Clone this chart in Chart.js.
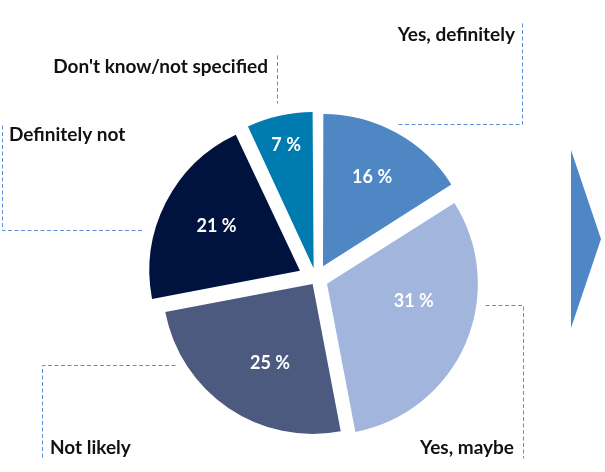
<!DOCTYPE html>
<html>
<head>
<meta charset="utf-8">
<script src="https://cdn.jsdelivr.net/npm/chart.js@4/dist/chart.umd.min.js"></script>
<style>
  html, body { margin: 0; padding: 0; background: #fff; }
  #wrap { position: relative; width: 605px; height: 472px; }
</style>
</head>
<body>
<div id="wrap"><canvas id="chart" width="605" height="472"></canvas></div>
<script>
// answers, clockwise from 12 o'clock
const categories = ['Yes, definitely', 'Yes, maybe', 'Not likely', 'Definitely not', "Don't know/not specified"];
const shares = [16, 31, 25, 21, 7];
const sliceColors = ['#4f87c5', '#a1b5dd', '#4d5a80', '#00123e', '#007bb0'];
// pull-out of each slice (chart.js offset, moves the slice by offset / 4 px)
const sliceOffsets = [58, 48, 24, 72, 44];
// where the % sits in its slice: [turn in degrees, share of the radius]
const labelSpots = [[0, 0.68], [-12, 0.59], [-6, 0.6], [1, 0.63], [0, 0.84]];

// outside captions (baseline) and their dotted leader lines
const callouts = [
  { text: 'Yes, definitely', x: 515, y: 41, align: 'right', path: [[522, 23], [522, 124], [397, 124]] },
  { text: 'Yes, maybe', x: 514, y: 454, align: 'right', path: [[485, 305], [523, 305], [523, 458]] },
  { text: 'Not likely', x: 50, y: 454, align: 'left', path: [[175, 365], [42, 365], [42, 458]] },
  { text: 'Definitely not', x: 9, y: 141, align: 'left', path: [[2, 125], [2, 230], [142, 230]] },
  { text: "Don't know/not specified", x: 268, y: 73, align: 'right', path: [[277, 55], [277, 103]] }
];

const FONT = 'Lato, "Open Sans", sans-serif';

const decorations = {
  id: 'decorations',
  afterDatasetsDraw(chart) {
    const ctx = chart.ctx;
    const meta = chart.getDatasetMeta(0);

    // percentages inside the slices
    ctx.save();
    ctx.fillStyle = '#fff';
    ctx.font = 'bold 18px ' + FONT;
    ctx.textAlign = 'center';
    ctx.textBaseline = 'middle';
    meta.data.forEach((arc, i) => {
      const mid = (arc.startAngle + arc.endAngle) / 2;
      const shift = (arc.options.offset || 0) / 4;
      const ox = arc.x + Math.cos(mid) * shift;
      const oy = arc.y + Math.sin(mid) * shift;
      const [turn, frac] = labelSpots[i];
      const a = mid + turn * Math.PI / 180;
      const r = arc.outerRadius * frac;
      ctx.fillText(shares[i] + ' %', ox + Math.cos(a) * r, oy + Math.sin(a) * r);
    });
    ctx.restore();

    // captions + leader lines
    ctx.save();
    ctx.strokeStyle = '#5d8fd5';
    ctx.lineWidth = 1;
    ctx.setLineDash([4, 2.5]);
    for (const c of callouts) {
      ctx.beginPath();
      c.path.forEach(([x, y], k) => k ? ctx.lineTo(x + 0.5, y + 0.5) : ctx.moveTo(x + 0.5, y + 0.5));
      ctx.stroke();
    }
    ctx.setLineDash([]);
    ctx.fillStyle = '#111';
    ctx.font = 'bold 19px ' + FONT;
    ctx.textBaseline = 'alphabetic';
    for (const c of callouts) {
      ctx.textAlign = c.align;
      ctx.fillText(c.text, c.x, c.y);
    }

    // arrow on the right edge
    ctx.fillStyle = '#4f86c6';
    ctx.beginPath();
    ctx.moveTo(571, 150);
    ctx.lineTo(601, 239);
    ctx.lineTo(571, 328);
    ctx.closePath();
    ctx.fill();
    ctx.restore();
  }
};

const chart = new Chart(document.getElementById('chart'), {
  type: 'pie',
  data: {
    labels: categories,
    datasets: [{
      data: shares,
      backgroundColor: sliceColors,
      offset: sliceOffsets,
      borderWidth: 0
    }]
  },
  options: {
    responsive: false,
    animation: false,
    radius: 150,
    layout: { padding: { left: 27, top: 86 } },
    plugins: {
      legend: { display: false },
      tooltip: { enabled: false }
    }
  },
  plugins: [decorations]
});
</script>
</body>
</html>
